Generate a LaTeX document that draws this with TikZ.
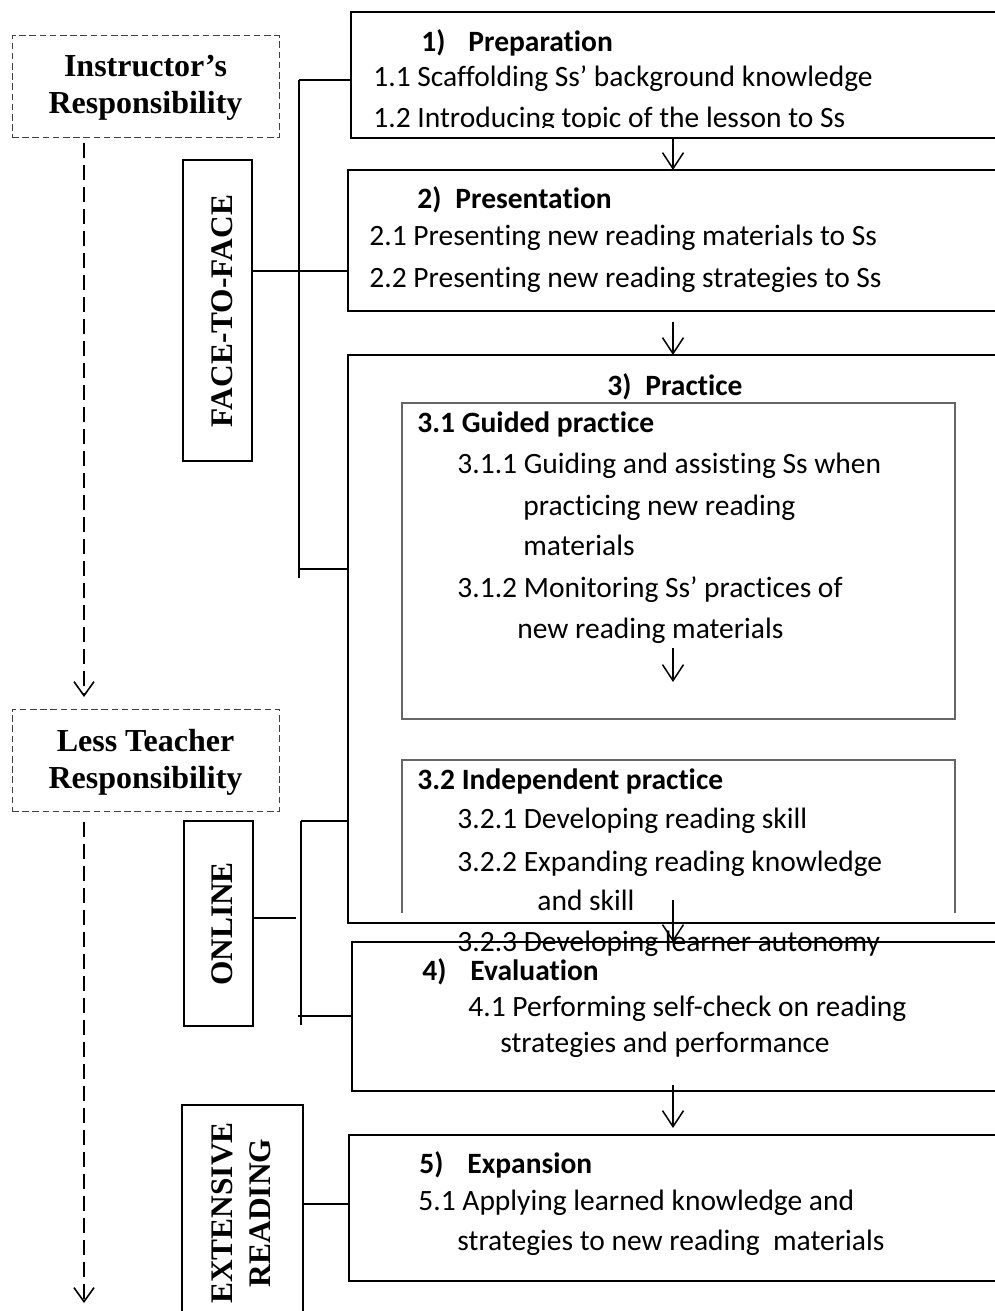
\documentclass[tikz,border=0pt]{standalone}
\usepackage{fontspec}
\setmainfont{Carlito}[Ligatures=NoCommon]
\newfontfamily\tnr{Liberation Serif}
\usetikzlibrary{arrows.meta}
\begin{document}
\begin{tikzpicture}[x=0.5pt,y=-0.5pt,
  bigbox/.style={draw, line width=1pt, outer sep=0pt, inner sep=0pt, anchor=north west},
  lblbox/.style={draw, line width=0.9pt, outer sep=0pt, inner sep=0pt, anchor=north west},
  graybox/.style={draw=black!60, line width=0.65pt, outer sep=0pt, inner sep=0pt, anchor=north west},
  respbox/.style={draw=black!75, line width=0.5pt, dash pattern=on 3.3pt off 1.8pt, outer sep=0pt, inner sep=0pt, anchor=north west},
  resptext/.style={align=center, font=\tnr\bfseries\fontsize{16}{18.5}\selectfont},
  sidetext/.style={rotate=90, align=center, font=\tnr\bfseries\fontsize{15.7}{19}\selectfont},
  txt/.style={anchor=base west, inner sep=0pt, font=\fontsize{14.75}{17}\selectfont},
  btxt/.style={txt, font=\bfseries\fontsize{14.75}{17}\selectfont},
  conn/.style={line width=0.75pt},
  arr/.style={line width=0.75pt, -{Straight Barb[length=8pt,width=10.5pt,line width=0.75pt]}},
  dline/.style={line width=0.8pt, dash pattern=on 7.5pt off 3.5pt, -{Straight Barb[length=7pt,width=10pt,line width=0.8pt]}}]
\useasboundingbox (0,0) rectangle (995,1311);

% ---------- left column ----------
\node[respbox, minimum width=133.5pt, minimum height=51pt] (resp1) at (12,36) {};
\node[resptext] (resp1t) at (145.5,88) {Instructor’s\\Responsibility};
\node[respbox, minimum width=133.5pt, minimum height=51.25pt] (resp2) at (12,709) {};
\node[resptext] (resp2t) at (145.5,762) {Less Teacher\\Responsibility};

\coordinate (dx) at (84,0);
\coordinate (dend) at (84,1303);
\draw[dline] ([yshift=-2.5pt]resp1.south -| dx) -- ([yshift=6pt]resp2.north -| dx);
\draw[dline] ([yshift=-5pt]resp2.south -| dx) -- (dend);

\node[lblbox, minimum width=34.5pt, minimum height=150.5pt] (f2f) at (183,160) {};
\node[sidetext] (f2ft) at (222,311) {FACE-TO-FACE};
\node[lblbox, minimum width=34.5pt, minimum height=102.5pt] (onl) at (184,821) {};
\node[sidetext] (onlt) at (222,924) {ONLINE};
\node[lblbox, minimum width=60.5pt, minimum height=115pt] (ext) at (182,1105) {};
\node[sidetext] (extt) at (241,1213) {EXTENSIVE\\READING};

% ---------- main boxes ----------
\node[bigbox, minimum width=329.5pt, minimum height=63pt] (b1) at (351,12) {};
\node[bigbox, minimum width=331pt, minimum height=70.5pt] (b2) at (348,170) {};
\node[bigbox, minimum width=331pt, minimum height=284pt] (b3) at (348,355) {};
\node[graybox, minimum width=276.5pt, minimum height=158pt] (b31) at (402,403) {};
\node[anchor=north west, outer sep=0pt, inner sep=0pt, minimum width=276.5pt, minimum height=76.5pt] (b32) at (402,760) {};
\draw[draw=black!60, line width=0.65pt] (b32.south west) -- (b32.north west) -- (b32.north east) -- (b32.south east);
\node[bigbox, minimum width=329pt, minimum height=74.5pt] (b4) at (352,942) {};
\node[bigbox, minimum width=330.5pt, minimum height=73pt] (b5) at (349,1135) {};

% ---------- texts ----------
\node[btxt] (t1) at (421,52) {\makebox[23.5pt][l]{1)}Preparation};
\node[txt] (t11) at (373,87) {1.1 Scaffolding Ss’ background knowledge};
\begin{scope}
\clip (351,12) rectangle (1000,127.5);
\node[txt] (t12) at (373,127) {1.2 Introducing topic of the lesson to Ss};
\end{scope}

\node[btxt] (t2) at (417,208) {\makebox[19pt][l]{2)}Presentation};
\node[txt] (t21) at (369,245) {2.1 Presenting new reading materials to Ss};
\node[txt] (t22) at (369,287) {2.2 Presenting new reading strategies to Ss};

\node[btxt] (t3) at (607,395) {\makebox[19pt][l]{3)}Practice};
\node[btxt] (t31) at (417,432) {3.1 Guided practice};
\node[txt] (t311) at (457,473) {3.1.1 Guiding and assisting Ss when};
\node[txt] (t311b) at (523,515) {practicing new reading};
\node[txt] (t311c) at (523,555) {materials};
\node[txt] (t312) at (457,597) {3.1.2 Monitoring Ss’ practices of};
\node[txt] (t312b) at (517,638) {new reading materials};

\node[btxt] (t32) at (417,789) {3.2 Independent practice};
\node[txt] (t321) at (457,828) {3.2.1 Developing reading skill};
\node[txt] (t322) at (457,871) {3.2.2 Expanding reading knowledge};
\node[txt] (t322b) at (537,910) {and skill};
\node[txt] (t323) at (457,951) {3.2.3 Developing learner autonomy};

\node[btxt] (t4) at (422,980) {\makebox[24pt][l]{4)}Evaluation};
\node[txt] (t41) at (468,1016) {4.1 Performing self-check on reading};
\node[txt] (t41b) at (500,1052) {strategies and performance};

\node[btxt] (t5) at (419,1173) {\makebox[24pt][l]{5)}Expansion};
\node[txt] (t51) at (418,1210) {5.1 Applying learned knowledge and};
\node[txt] (t51b) at (457,1250) {strategies to new reading\ \ materials};

% redraw box 4 top over the 3.2.3 text
\draw[line width=1pt] (b4.north west) -- (b4.north east);

% ---------- arrows ----------
\coordinate (ax) at (673,0);
\coordinate (ia) at (673,648);
\coordinate (ib) at (673,682);
\draw[arr] (b1.south -| ax) -- (b2.north -| ax);
\draw[arr] ([yshift=-5.5pt]b2.south -| ax) -- (b3.north -| ax);
\draw[arr] (ia) -- (ib);
\draw[arr] ([yshift=11.5pt]b3.south -| ax) -- (b4.north -| ax);
\draw[arr] ([yshift=3pt]b4.south -| ax) -- ([yshift=3.5pt]b5.north -| ax);

% ---------- brackets ----------
\coordinate (fa) at (299,80);
\coordinate (fb) at (299,578);
\coordinate (fc) at (299,569);
\draw[conn] (fa) -- (fb);
\draw[conn] (fa) -- (b1.west |- fa);
\draw[conn] (f2f.east |- 0,271) -- (b2.west |- 0,271);
\draw[conn] (fc) -- (b3.west |- fc);

\coordinate (oa) at (301,821);
\coordinate (ob) at (301,1025);
\coordinate (om) at (296,918);
\coordinate (oc) at (298,1016);
\draw[conn] (oa) -- (ob);
\draw[conn] (oa) -- (b3.west |- oa);
\draw[conn] (onl.east |- om) -- (om);
\draw[conn] (oc) -- (b4.west |- oc);

\draw[conn] (ext.east |- 0,1204) -- (b5.west |- 0,1204);
\end{tikzpicture}
\end{document}
